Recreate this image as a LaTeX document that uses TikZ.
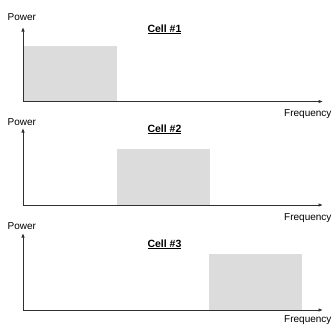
\documentclass[tikz,border=0pt]{standalone}
\usepackage{fontspec}
\setmainfont{Liberation Sans}
\usetikzlibrary{arrows.meta}
\definecolor{boxgray}{HTML}{DCDCDC}
\definecolor{axisgray}{HTML}{303030}
\tikzset{
  axis/.style={draw=axisgray, line width=0.9pt, -{Latex[length=4.5pt,width=3.6pt]}},
  lbl/.style={inner sep=0pt, font=\fontsize{10}{12}\selectfont},
  celllbl/.style={inner sep=0pt, font=\fontsize{10.5}{12}\selectfont\bfseries},
  band/.style={fill=boxgray, draw=none}
}
\begin{document}
\begin{tikzpicture}[x=1pt,y=-1pt]
\useasboundingbox (0,0) rectangle (333,325);
% panel: origin y / power baseline / tip y / cell baseline / box top / box x1 / box x2 / freq baseline / number
\foreach \oy/\pb/\ty/\cb/\bt/\bxa/\bxb/\fb/\n in {
  101.5/20/27/32/46/23/117/116.5/1,
  205/125/128/132/149/117/210/220.5/2,
  310/229/233/247/254/209/302/322.3/3}{
  \coordinate (o\n) at (23,\oy);
  \coordinate (yt\n) at (23,\ty);
  \coordinate (xt\n) at (323,\oy);
  \path[band] (\bxa,\oy) rectangle (\bxb,\bt);
  \draw[axis] (o\n) -- (yt\n);
  \draw[axis] (o\n) -- (xt\n);
  \node[lbl, anchor=base west] (pw\n) at (7.5,\pb) {Power};
  \node[lbl, anchor=base west] (fq\n) at (284,\fb) {Frequency};
  \node[celllbl, anchor=base] (cell\n) at (164.5,\cb) {\underline{Cell \#\n}};
}
\end{tikzpicture}
\end{document}
